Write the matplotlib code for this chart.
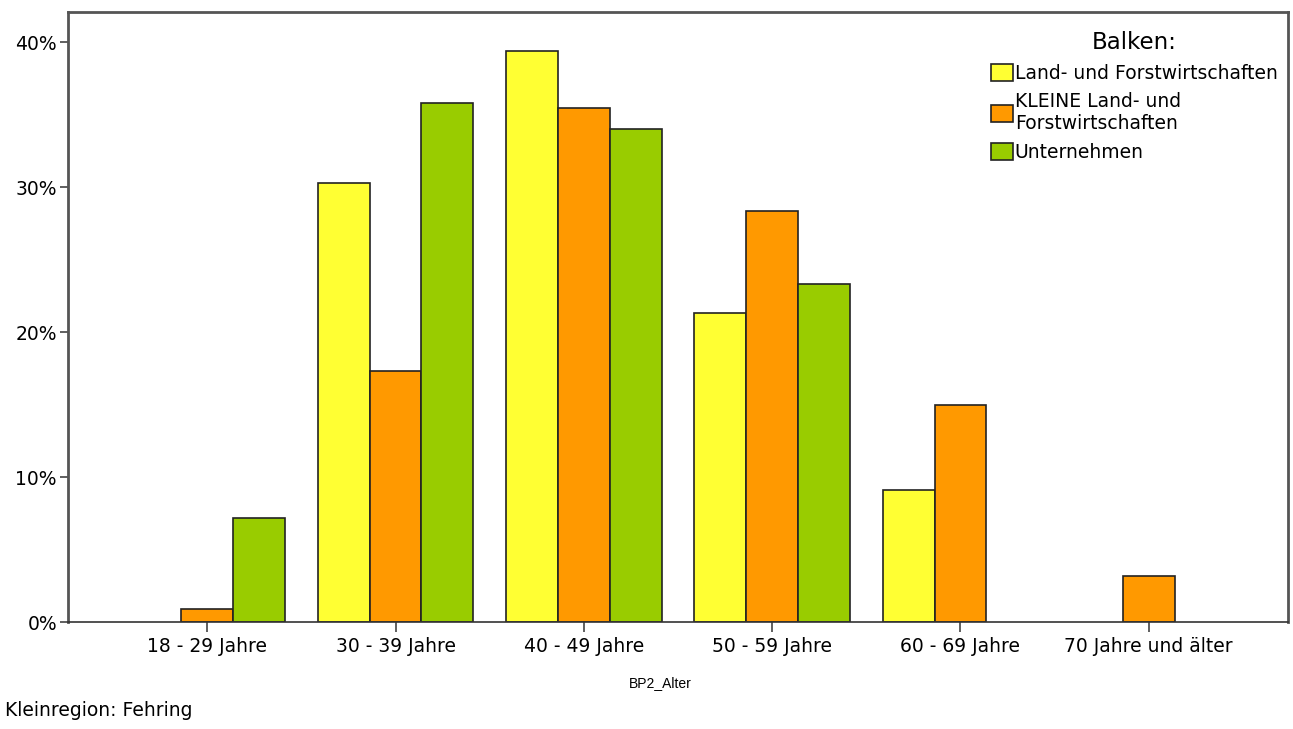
import numpy as np
from matplotlib import pyplot as plt
from matplotlib.ticker import FuncFormatter

plt.rcParams['font.family'] = ['DejaVu Sans']

#Kategorien und Werte (Prozent)
kategorien = ['18 - 29 Jahre', '30 - 39 Jahre', '40 - 49 Jahre',
              '50 - 59 Jahre', '60 - 69 Jahre', '70 Jahre und älter']
land_forst = [0.0, 30.3, 39.4, 21.3, 9.1, 0.0]
kleine_land_forst = [0.9, 17.3, 35.5, 28.4, 15.0, 3.2]
unternehmen = [7.2, 35.8, 34.0, 23.3, 0.0, 0.0]

serien = ['Land- und Forstwirtschaften', 'KLEINE Land- und\nForstwirtschaften', 'Unternehmen']
farben = ['#ffff33', '#ff9900', '#99cc00']

fig = plt.figure(figsize=(12.93, 7.29), dpi=100)
ax = fig.add_axes([68/1293, 1 - 622/729, (1288-68)/1293, (622-12)/729])

x = np.arange(len(kategorien))
breite = 0.275
for i, (werte, name, farbe) in enumerate(zip([land_forst, kleine_land_forst, unternehmen], serien, farben)):
    werte = np.array(werte)
    # nur Balken > 0 zeichnen
    maske = werte > 0
    ax.bar(x[maske] + (i - 1) * breite, werte[maske], width=breite, color=farbe,
           edgecolor='#222222', linewidth=1.2, label=name)

ax.set_xlim(-0.74, 5.74)
ax.set_ylim(0, 42.1)
ax.set_yticks([0, 10, 20, 30, 40])
ax.yaxis.set_major_formatter(FuncFormatter(lambda v, p: '%d%%' % v))
ax.set_xticks(x)
ax.set_xticklabels(kategorien, fontsize=13.5)
ax.tick_params(axis='y', labelsize=13.5, length=6, width=1.2, color='#444444', pad=2)
ax.tick_params(axis='x', length=7, width=1.2, color='#444444', pad=4)

for s in ['left', 'top', 'right']:
    ax.spines[s].set_color('#555555')
    ax.spines[s].set_linewidth(2)
ax.spines['bottom'].set_color('#333333')
ax.spines['bottom'].set_linewidth(1.2)

ax.set_xlabel('BP2_Alter', fontsize=10,
              family=['Liberation Sans Narrow', 'Liberation Sans'])
ax.xaxis.set_label_coords((660 - 68) / 1220, -0.089)

leg = ax.legend(title='Balken:', loc='upper right', bbox_to_anchor=(1.0, 0.985),
                frameon=False, fontsize=13.5, title_fontsize=16.5,
                handlelength=1.15, handleheight=1.0, handletextpad=0.1,
                labelspacing=0.5, borderaxespad=0.15)
leg._legend_box.align = 'left'
leg.get_title().set_position((100, 0))

fig.text(5/1293, 1 - 716/729, 'Kleinregion: Fehring', fontsize=13.5, va='baseline')

plt.savefig('out.png', dpi=100)
